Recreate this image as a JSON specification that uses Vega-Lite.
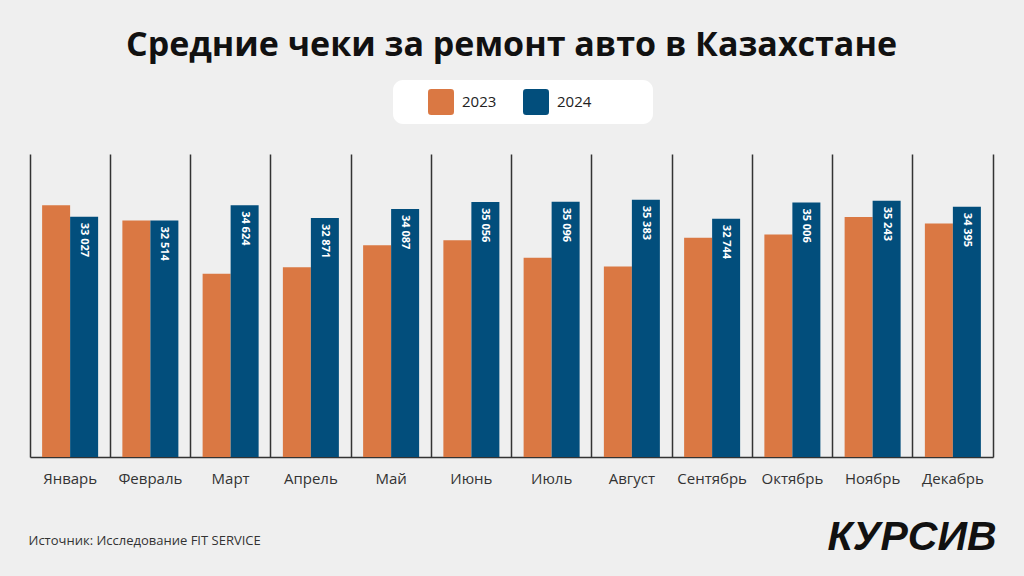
{
  "$schema": "https://vega.github.io/schema/vega-lite/v6.json",
  "width": 963,
  "height": 303,
  "autosize": {"type": "none"},
  "padding": {"left": 30, "top": 154, "right": 31, "bottom": 119},
  "background": "#EFEFEF",
  "title": {
    "text": "Средние чеки за ремонт авто в Казахстане",
    "anchor": "middle",
    "frame": "group",
    "offset": 17,
    "font": "Open Sans",
    "fontSize": 34,
    "fontWeight": 700,
    "color": "#111111"
  },
  "data": {
    "values": [
      {"month": "Январь", "year": "2023", "value": 34600},
      {"month": "Январь", "year": "2024", "value": 33027},
      {"month": "Февраль", "year": "2023", "value": 32500},
      {"month": "Февраль", "year": "2024", "value": 32514},
      {"month": "Март", "year": "2023", "value": 25200},
      {"month": "Март", "year": "2024", "value": 34624},
      {"month": "Апрель", "year": "2023", "value": 26100},
      {"month": "Апрель", "year": "2024", "value": 32871},
      {"month": "Май", "year": "2023", "value": 29100},
      {"month": "Май", "year": "2024", "value": 34087},
      {"month": "Июнь", "year": "2023", "value": 29800},
      {"month": "Июнь", "year": "2024", "value": 35056},
      {"month": "Июль", "year": "2023", "value": 27400},
      {"month": "Июль", "year": "2024", "value": 35096},
      {"month": "Август", "year": "2023", "value": 26200},
      {"month": "Август", "year": "2024", "value": 35383},
      {"month": "Сентябрь", "year": "2023", "value": 30150},
      {"month": "Сентябрь", "year": "2024", "value": 32744},
      {"month": "Октябрь", "year": "2023", "value": 30600},
      {"month": "Октябрь", "year": "2024", "value": 35006},
      {"month": "Ноябрь", "year": "2023", "value": 33000},
      {"month": "Ноябрь", "year": "2024", "value": 35243},
      {"month": "Декабрь", "year": "2023", "value": 32100},
      {"month": "Декабрь", "year": "2024", "value": 34395}
    ]
  },
  "encoding": {
    "x": {
      "field": "month",
      "type": "nominal",
      "sort": null,
      "scale": {"paddingInner": 0, "paddingOuter": 0},
      "axis": {
        "title": "Источник: Исследование FIT SERVICE",
        "titleX": -2,
        "titleY": 83,
        "titleAnchor": "start",
        "titleAlign": "left",
        "titleBaseline": "middle",
        "titleFont": "Open Sans",
        "titleFontSize": 13,
        "titleFontWeight": "normal",
        "titleColor": "#333333",
        "labelAngle": 0,
        "labelFont": "Open Sans",
        "labelFontSize": 15,
        "labelColor": "#333333",
        "labelPadding": 14,
        "ticks": false,
        "domain": true,
        "domainColor": "#333333",
        "domainWidth": 1.5,
        "grid": true,
        "bandPosition": 0,
        "gridColor": "#333333",
        "gridWidth": 1.5,
        "gridOpacity": 1
      }
    },
    "xOffset": {
      "field": "year",
      "type": "nominal",
      "scale": {"paddingInner": 0, "paddingOuter": 0.433}
    },
    "y": {
      "field": "value",
      "type": "quantitative",
      "scale": {"domain": [0, 41660], "nice": false},
      "axis": {
        "orient": "right",
        "labels": false,
        "ticks": false,
        "grid": false,
        "domain": true,
        "domainColor": "#333333",
        "domainWidth": 1.5,
        "title": "КУРСИВ",
        "titleAngle": 0,
        "titleX": 3,
        "titleY": 383,
        "titleAlign": "right",
        "titleBaseline": "middle",
        "titleFont": "Liberation Sans",
        "titleFontSize": 41,
        "titleFontWeight": 900,
        "titleFontStyle": "italic",
        "titleColor": "#111111"
      }
    }
  },
  "layer": [
    {
      "mark": {"type": "bar"},
      "encoding": {
        "color": {
          "field": "year",
          "type": "nominal",
          "scale": {"domain": ["2023", "2024"], "range": ["#DA7843", "#024E7C"]},
          "legend": {
            "title": "\u00a0",
            "titleOrient": "right",
            "titlePadding": 53,
            "orient": "none",
            "legendX": 363,
            "legendY": -74,
            "direction": "horizontal",
            "padding": 9,
            "symbolOffset": 26,
            "fillColor": "#FFFFFF",
            "strokeColor": null,
            "cornerRadius": 10,
            "symbolType": "M-0.75,-1H0.75Q1,-1 1,-0.75V0.75Q1,1 0.75,1H-0.75Q-1,1 -1,0.75V-0.75Q-1,-1 -0.75,-1Z",
            "symbolSize": 676,
            "symbolStrokeWidth": 0,
            "symbolOpacity": 1,
            "labelFont": "Open Sans",
            "labelFontSize": 15,
            "labelColor": "#222222",
            "labelOffset": 8,
            "columnPadding": 0
          }
        }
      }
    },
    {
      "transform": [{"filter": "datum.year === '2024'"}],
      "mark": {
        "type": "text",
        "angle": 90,
        "align": "left",
        "baseline": "middle",
        "dx": 6,
        "color": "#FFFFFF",
        "font": "Open Sans",
        "fontSize": 11,
        "fontWeight": 700
      },
      "encoding": {
        "text": {"field": "value", "type": "quantitative", "format": ",d"}
      }
    }
  ],
  "config": {
    "view": {"stroke": null},
    "locale": {
      "number": {"decimal": ",", "thousands": " ", "grouping": [3], "currency": ["", ""]}
    }
  }
}
